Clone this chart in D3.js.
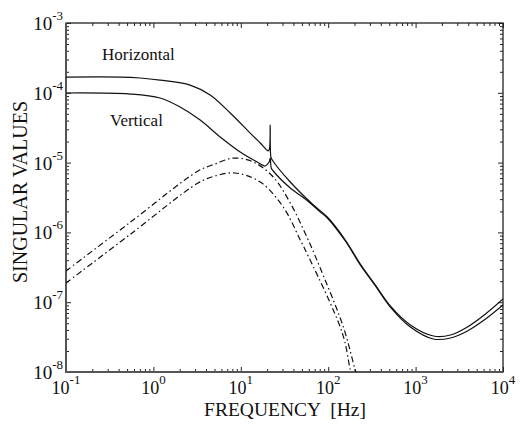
<!DOCTYPE html>
<html>
<head>
<meta charset="utf-8">
<script src="https://cdn.jsdelivr.net/npm/d3@7"></script>
<style>
  body { margin: 0; background: #fff; }
  svg { display: block; }
  text { font-family: "Liberation Serif", "DejaVu Serif", serif; fill: #111; }
</style>
</head>
<body>
<svg id="chart" width="520" height="425"></svg>
<script>
// ---- data ----
const xTickExponents = [-1, 0, 1, 2, 3, 4];
const yTickExponents = [-8, -7, -6, -5, -4, -3];

// Horizontal singular value (solid, upper)
const horizFreq = [0.1, 0.416, 0.705, 1.19, 2.63, 4.46, 7.56, 12.8, 16.7, 20.6, 21.3, 21.7, 22.1, 22.9, 36.8, 65.8, 97.7, 157, 233, 347, 514, 871, 1600, 2506, 3920, 6310, 10000];
const horizVal  = [1.68e-4, 1.68e-4, 1.63e-4, 1.52e-4, 1.29e-4, 9.3e-5, 5.14e-5, 2.65e-5, 1.91e-5, 1.47e-5, 1.6e-5, 3.46e-5, 1.2e-5, 1.09e-5, 5.27e-6, 2.55e-6, 1.66e-6, 7.78e-7, 3.52e-7, 1.76e-7, 8.83e-8, 4.71e-8, 3.28e-8, 3.39e-8, 4.42e-8, 6.78e-8, 1.11e-7];

// Vertical singular value (solid, lower)
const vertFreq = [0.1, 0.541, 1.19, 2.02, 3.43, 5.81, 9.84, 15.4, 19.0, 21.1, 21.7, 22.3, 23.5, 36.8, 54.7, 81.2, 97.7, 157, 233, 347, 514, 871, 1600, 2506, 3920, 6310, 10000];
const vertVal  = [9.93e-5, 9.6e-5, 8.43e-5, 6.26e-5, 4.07e-5, 2.33e-5, 1.42e-5, 1.02e-5, 8.93e-6, 1.02e-5, 1.16e-5, 8.37e-6, 7.58e-6, 4.33e-6, 3.01e-6, 1.96e-6, 1.61e-6, 7.53e-7, 3.41e-7, 1.71e-7, 8.53e-8, 4.42e-8, 2.97e-8, 3.07e-8, 3.87e-8, 5.74e-8, 9.12e-8];

// dash-dot curves
const ddUpperFreq = [0.1, 0.541, 3.25, 5.09, 8.18, 13.9, 23.5, 36.8, 57.7, 75.0, 149, 204, 233];
const ddUpperVal  = [2.80e-7, 1.39e-6, 7.58e-6, 9.55e-6, 1.16e-5, 1.02e-5, 6.22e-6, 2.64e-6, 8.31e-7, 3.89e-7, 4.42e-8, 1.07e-8, 6.5e-9];
const ddLowerFreq = [0.1, 0.541, 3.25, 5.09, 8.63, 16.7, 30.6, 47.9, 54.7, 145, 179, 199];
const ddLowerVal  = [1.88e-7, 9.33e-7, 5.1e-6, 6.43e-6, 7.1e-6, 5.27e-6, 2.31e-6, 7.78e-7, 5.6e-7, 3.62e-8, 1.07e-8, 6.5e-9];

const curveLabels = ["Horizontal", "Vertical"];
const xTitle = "FREQUENCY  [Hz]";
const yTitle = "SINGULAR VALUES";

// ---- layout ----
const L = 66, R = 503, T = 23, B = 372;
const svg = d3.select("#chart");
const x = d3.scaleLog().domain([0.1, 1e4]).range([L, R]);
const y = d3.scaleLog().domain([1e-8, 1e-3]).range([B, T]);

svg.append("defs").append("clipPath").attr("id", "clip")
  .append("rect").attr("x", L).attr("y", T).attr("width", R - L).attr("height", B - T);

// ticks
const majorX = xTickExponents.map(e => Math.pow(10, e));
const majorY = yTickExponents.map(e => Math.pow(10, e));
const minorX = [], minorY = [];
for (let i = 0; i < majorX.length - 1; i++) for (let k = 2; k <= 9; k++) minorX.push(majorX[i] * k);
for (let i = 0; i < majorY.length - 1; i++) for (let k = 2; k <= 9; k++) minorY.push(majorY[i] * k);

function styleAxis(g) {
  g.select(".domain").remove();
  g.selectAll("text").remove();
  g.selectAll("line").attr("stroke", "#222").attr("stroke-width", 1);
}
[[d3.axisBottom(x), B], [d3.axisTop(x), T]].forEach(([ax, pos]) => {
  svg.append("g").attr("transform", `translate(0,${pos})`)
    .call(ax.tickValues(majorX).tickSize(-5)).call(styleAxis);
  svg.append("g").attr("transform", `translate(0,${pos})`)
    .call(ax.tickValues(minorX).tickSize(-3)).call(styleAxis);
});
[[d3.axisLeft(y), L], [d3.axisRight(y), R]].forEach(([ax, pos]) => {
  svg.append("g").attr("transform", `translate(${pos},0)`)
    .call(ax.tickValues(majorY).tickSize(-5)).call(styleAxis);
  svg.append("g").attr("transform", `translate(${pos},0)`)
    .call(ax.tickValues(minorY).tickSize(-3)).call(styleAxis);
});

// frame
svg.append("rect").attr("x", L).attr("y", T).attr("width", R - L).attr("height", B - T)
  .attr("fill", "none").attr("stroke", "#222").attr("stroke-width", 1.3);
svg.append("path").attr("d", `M${L},${T}V${B}H${R}`)
  .attr("fill", "none").attr("stroke", "#555").attr("stroke-width", 2);

// tick labels
xTickExponents.forEach(e => {
  const t = svg.append("text").attr("x", x(Math.pow(10, e))).attr("y", 394)
    .attr("text-anchor", "middle").attr("font-size", 18);
  t.append("tspan").text("10");
  t.append("tspan").attr("dy", -10).attr("font-size", 13).text(String(e));
});
yTickExponents.forEach(e => {
  const t = svg.append("text").attr("x", 63).attr("y", y(Math.pow(10, e)) + 7)
    .attr("text-anchor", "end").attr("font-size", 19);
  t.append("tspan").text("10");
  t.append("tspan").attr("dy", -10).attr("font-size", 13).text(String(e));
});

// axis titles
svg.append("text").attr("x", 285).attr("y", 416).attr("text-anchor", "middle")
  .attr("font-size", 19.5).style("white-space", "pre").text(xTitle);
svg.append("text").attr("transform", `translate(27,192) rotate(-90)`)
  .attr("text-anchor", "middle").attr("font-size", 20).text(yTitle);

// curves
const line = d3.line().x(d => x(d[0])).y(d => y(d[1])).curve(d3.curveCatmullRom.alpha(0.5));
const plot = svg.append("g").attr("clip-path", "url(#clip)");
function draw(fr, vals, dash) {
  plot.append("path").datum(fr.map((f, i) => [f, vals[i]]))
    .attr("d", line).attr("fill", "none").attr("stroke", "#111")
    .attr("stroke-width", 1.2).attr("stroke-dasharray", dash || null);
}
draw(horizFreq, horizVal);
draw(vertFreq, vertVal);
draw(ddUpperFreq, ddUpperVal, "6,3,1.5,3");
draw(ddLowerFreq, ddLowerVal, "6,3,1.5,3");

// curve labels
svg.append("text").attr("x", 102).attr("y", 60).attr("font-size", 17).text(curveLabels[0]);
svg.append("text").attr("x", 110).attr("y", 126).attr("font-size", 17).text(curveLabels[1]);
</script>
</body>
</html>
